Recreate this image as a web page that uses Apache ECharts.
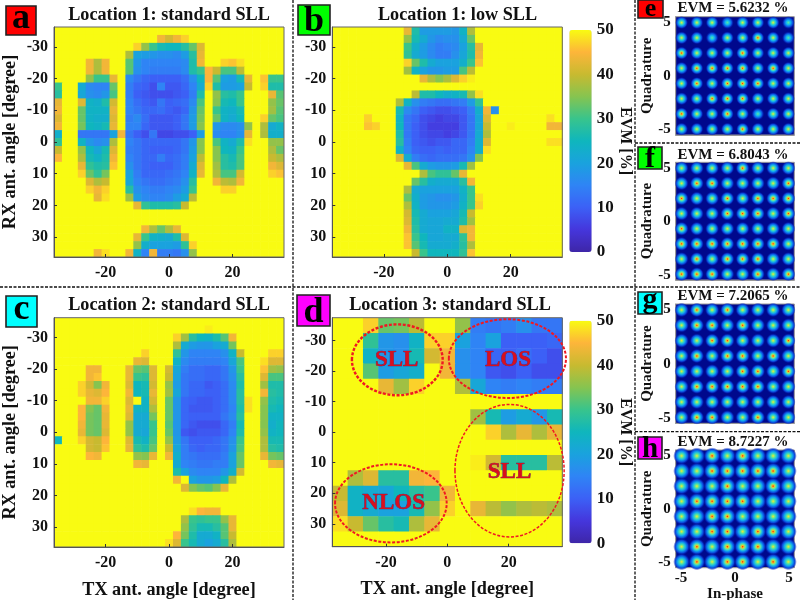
<!DOCTYPE html>
<html><head><meta charset="utf-8">
<style>html,body{margin:0;padding:0;background:#fff}#c{width:800px;height:600px}</style>
<script src="https://cdn.jsdelivr.net/npm/echarts@6/dist/echarts.min.js"></script>
</head><body><div id="c"></div>
<script>
// EVM [%]. A row lists [firstColumn, value, value, ...] runs; every other cell is the saturated 50.
const evmA = [
[],
[[13,44,41,44,47]],
[[10,47,36,30,26,25,25,28,33,42]],
[[9,38,20,19,18,17,17,16,19,28,43]],
[[4,44,38,44],[9,32,18,15,15,15,15,15,16,27,44],[21,47,46,48]],
[[4,44,38,44],[9,32,17,15,14,14,14,14,16,27,30,45,40,31,31,39]],
[[4,36,30,30,43],[9,16,13,11,10,10,10,10,12,17,25,45,32,20,19,26,43],[26,46,30,30]],
[[0,30],[3,22,16,15,15,33],[9,14,11,10,8,15,9,9,11,15,22,47,27,19,19,20,40],[26,47,27,27]],
[[0,28],[3,21,17,16,18,31],[9,14,10,9,8,8,8,9,10,14,27],[20,36,28,27,30],[27,43,32]],
[[0,43],[3,42,24,23,27,41],[9,15,12,10,9,13,10,11,12,16,31],[20,35,26,25,30],[27,36,33]],
[[0,44],[3,33,24,24,24,43],[9,15,13,11,11,12,10,9,11,18,33],[20,30,24,23,26],[27,37,32]],
[[0,42],[3,33,24,23,23,42],[9,14,16,12,9,9,9,10,13,19,34],[20,33,24,22,25],[26,47,33,31]],
[[0,44],[3,34,25,24,26,43],[9,15,15,11,9,9,9,10,13,19,35],[20,18,16,16,17,36],[26,38,22,24]],
[[0,23],[3,13,13,13,13,20,44,13,10,8,13,7,7,8,8,10,19],[20,16,15,15,17,43],[26,38,23,23]],
[[0,29],[3,24,18,16,17,38],[9,15,13,11,11,11,11,11,13,18,35],[20,31,24,22,27,48],[27,36,36]],
[[0,40],[3,36,25,21,26,42],[9,14,13,11,10,10,10,11,13,19,35],[20,35,25,24,30],[27,38,33]],
[[0,45],[3,38,26,24,27,44],[9,15,13,11,11,14,11,12,14,20,39],[20,35,28,26,31],[27,40,38]],
[[3,43,29,27,28,46],[9,17,13,11,10,10,10,12,14,22,42],[20,37,28,27,31],[27,44,42]],
[[3,47,33,29,34],[9,20,14,11,11,11,12,13,15,24,43],[20,38,31,31,41],[27,47,46]],
[[4,42,38,40],[9,21,15,13,12,12,13,14,17,28],[20,44,39,38,44]],
[[4,47,44,47],[9,28,17,15,14,14,15,16,19,30],[21,47,47]],
[[5,43,48],[9,37,19,16,15,15,16,19,22,39]],
[[10,43,29,27,27,27,28,40]],
[],
[],
[[11,44,38,33,38,43]],
[[10,43,30,24,23,22,27,42]],
[[10,36,23,20,20,20,19,29,47]],
[[5,44,48],[9,44,24,15,44,14,14,13,17,36]]
];
const evmB = [
[[9,43,27,19,19,19,19,18,24,38]],
[[9,36,26,22,18,16,17,17,22,33]],
[[9,30,23,19,16,14,15,16,20,28,43]],
[[9,29,22,19,16,14,14,17,21,27,44]],
[[9,47,33,27,22,20,20,20,23,30,46]],
[[9,37,24,20,18,18,19,19,31,39]],
[[11,43,38,35,38,42,47,49]],
[],
[[10,39,27,27,25,23,24,26,36,48]],
[[8,38,24,17,14,13,12,12,13,14,19,29]],
[[8,26,16,13,10,9,8,8,9,10,14,23,44,17]],
[[4,47],[8,24,13,11,8,7,6,7,7,9,13,21,42],[27,48]],
[[4,46,47],[8,25,13,10,8,6,6,6,6,9,13,21,40],[22,49],[27,44,44]],
[[8,27,13,10,8,7,7,6,7,9,13,22,38]],
[[8,28,14,10,9,8,9,9,11,11,14,23,42],[27,48,48]],
[[8,24,15,11,10,10,11,10,11,11,15,23,48]],
[[8,42,22,14,12,11,12,12,12,13,17,35]],
[[9,43,31,22,19,18,18,19,26,37]],
[[11,38,31,29,29,33,43]],
[[10,33,28,23,22,22,22,28,44]],
[[9,38,22,20,20,20,20,20,24,30]],
[[9,33,23,19,18,17,17,18,23,30,48]],
[[9,38,24,19,18,18,18,19,24,30,47]],
[[9,41,26,22,20,20,20,21,26,40]],
[[9,42,27,22,21,21,22,22,27,37]],
[[9,44,28,22,21,21,24,24,42,44]],
[[9,46,30,25,21,21,22,22,29,44]],
[[9,46,32,26,22,22,22,23,28,38]],
[[10,40,30,25,25,25,25,29,46]]
];
const evmC = [
[],
[[19,49]],
[[15,47,37,28,25,24,27,32,44]],
[[15,38,22,19,18,18,20,22,34]],
[[11,47],[15,29,18,15,15,15,15,17,24,40],[27,47,47]],
[[10,43,42],[15,24,16,14,14,14,14,15,21,31],[26,48,42,42]],
[[4,44,44],[9,43,33,32,42],[14,41,21,14,12,12,11,11,13,18,30],[26,46,37,36]],
[[4,44,46],[9,43,30,29,42],[14,40,20,13,12,12,11,11,13,17,28],[26,42,31,31]],
[[3,47,41,35,44],[9,42,25,26,41],[14,36,19,13,11,11,9,10,12,16,27],[26,37,27,27]],
[[3,47,43,42,45],[9,44,25,26,43],[14,37,21,13,11,11,10,10,12,16,28],[26,44,28,27]],
[[4,44,44,47],[9,42,50,24,41],[14,33,18,11,10,9,9,10,12,16,28,48],[26,36,27,26]],
[[3,45,35,33,44],[9,43,24,24,38],[14,33,18,11,9,9,9,10,12,15,27,48],[26,35,26,25]],
[[3,45,34,33,43],[9,42,22,22,34],[14,33,18,11,10,10,10,10,13,16,28],[26,35,24,24]],
[[3,44,34,33,43],[9,36,22,22,30],[14,32,18,11,9,8,8,8,11,14,26],[26,35,23,25]],
[[3,43,34,33,42],[9,36,22,21,30],[14,33,18,9,8,9,9,9,11,15,27],[26,36,24,25]],
[[0,25],[3,47,41,40,45],[9,42,26,24,31],[14,36,19,13,10,10,10,11,13,17,30],[26,38,26,26]],
[[4,41,40,46],[9,43,29,27,33],[14,40,21,14,11,10,11,11,13,18,31],[26,38,28,27]],
[[4,45,44],[10,36,35,43],[14,44,23,14,13,12,12,12,14,20,33],[26,43,34,33]],
[[10,44,43],[15,22,15,14,13,13,14,14,20,33],[27,44,43]],
[[15,27,20,16,15,15,15,18,23,41]],
[[15,44,50,20,18,18,19,25,38]],
[[16,42,35,33,32,35,43]],
[],
[],
[[17,48,45,44,44]],
[[16,38,30,29,30,30,36,43]],
[[16,36,29,26,26,28,32,43]],
[[15,45,34,27,22,22,24,32,40]],
[[14,48,42,30,26,22,20,22,28,38]]
];
const evmD = [
[[2,47,33,34,39],[8,36,14,13,14,17,13,13]],
[[2,29,18,17,24,47,47,20,15,20,10,10,10,11]],
[[2,24,18,17,26,41,44,17,15,11,10,12,10,8]],
[[2,32,19,21,23,50,44,17,15,9,8,10,8,8]],
[[3,43,37,47],[8,38,21,15,14,15,14,14]],
[],
[[9,37,26,19,22,18,26]],
[[10,47,38,43,38,43]],
[],
[[9,49,41,28,28,28,39]],
[[1,38,42,28,28,44,45]],
[[0,40,24,22,21,25,28,30,44]],
[[0,42,24,22,20,20,26,36,47],[9,43,39,36,38,39,38]],
[[0,48,40,33,28,26,38,43]],
[]
];
const stepFine = 2.5, stepCoarse = 5, satValue = 50;

const txTicksWide = [-20, 0, 20];
const rxTicksA = [-30,-20,-10,0,10,20,30];
const barTicks = [0,10,20,30,40,50];

// Dashed ellipses and their labels in panel d, in degrees: [cx, cy, rx, ry]
const ellipseSets = [[-16.3,-23.7,14.8,11.6],[19.6,-24.1,19.1,12.9],[20.3,12.6,17.8,21.7],[-18.4,23.3,18.2,12.8]];
const ellipseWidths = [2.4,2,1.5,2];
const ellipseLabels = [['SLL',-16.5,-23.7],['LOS',19.8,-23.7],['SLL',20.3,12.9],['NLOS',-17.5,23.3]];

// Constellations: symbol levels and how hot each cluster's core looks (1 cyan, 2 yellow, 3 red), top row first.
const iqLevels = [-4.95,-3.536,-2.121,-0.707,0.707,2.121,3.536,4.95];
const coreE = [[2,2,2,1,2,2,2,1],[2,2,1,2,2,3,2,1],[3,2,2,2,3,2,2,2],[2,3,3,3,3,2,3,2],[2,3,2,3,3,3,2,2],[2,2,3,3,3,2,2,2],[3,2,2,3,2,1,2,2],[2,2,2,2,3,2,2,2]];
const coreF = [[2,2,2,2,3,2,2,2],[2,3,3,2,2,2,2,3],[3,2,2,3,2,3,3,3],[2,2,2,3,3,3,2,3],[3,2,2,2,2,2,2,2],[3,3,3,3,3,3,3,2],[2,3,2,3,3,3,2,2],[3,3,3,2,2,3,2,3]];
const coreG = [[2,3,2,3,2,2,2,2],[2,3,3,2,3,2,2,2],[2,2,3,3,2,2,2,3],[2,3,2,3,3,2,3,2],[2,2,2,2,3,3,2,3],[2,3,3,3,3,3,2,2],[2,2,2,2,2,2,2,2],[2,3,3,2,2,3,2,2]];
const coreH = [[2,2,3,2,3,2,2,2],[2,2,3,3,3,3,3,2],[2,2,2,3,2,2,3,2],[2,3,3,3,3,2,2,2],[2,2,3,3,2,2,2,2],[2,2,3,3,2,3,3,2],[2,3,2,3,3,3,2,2],[2,3,2,3,3,2,3,2]];
const evmTitles = ['EVM = 5.6232 %','EVM = 6.8043 %','EVM = 7.2065 %','EVM = 8.7227 %'];
const mapTitles = ['Location 1: standard SLL','Location 1: low SLL','Location 2: standard SLL','Location 3: standard SLL'];

const parula = ['#3e26a8','#4536dc','#3c60f6','#2f84f5','#1aa2de','#0fb6bd','#38c48c','#86c450','#c8ba30','#fdb53a','#f9fb12'];
const FONT = '"Liberation Serif","Times New Roman",serif';

function expand(rows, n, start, step){
  const out = [];
  for(let j=0;j<n;j++){
    const row = new Array(n).fill(satValue);
    (rows[j]||[]).forEach(seg=>{ for(let k=1;k<seg.length;k++) row[seg[0]+k-1]=seg[k]; });
    for(let i=0;i<n;i++) out.push([start+i*step, start+j*step, row[i]]);
  }
  return out;
}
function cellRenderer(step){
  return function(params, api){
    const c = api.coord([api.value(0), api.value(1)]);
    const s = api.size([step, step]);
    return {type:'rect', shape:{x:c[0]-s[0]/2, y:c[1]-s[1]/2, width:s[0]+0.6, height:s[1]+0.6},
      style:{fill:api.visual('color')}};
  };
}
const grids=[], xAxes=[], yAxes=[], series=[], titles=[];
const tickText = {fontFamily:FONT, fontWeight:'bold', fontSize:16, color:'#111'};
const nameText = {fontFamily:FONT, fontWeight:'bold', fontSize:18.2, color:'#111'};

function addMap(rect, lim, xTicks, yTicks, showXName, showYName, rows, n, step, title, titleX, titleY){
  const idx = grids.length;
  grids.push({left:rect[0], top:rect[1], width:rect[2], height:rect[3], show:true, borderColor:'#666', borderWidth:1, z:6, backgroundColor:'transparent', outerBoundsMode:'none'});
  const ax = {type:'value', min:-lim, max:lim, gridIndex:idx, splitLine:{show:false}, axisLine:{show:true,onZero:false,lineStyle:{color:'#555',width:1}},
    axisTick:{show:true, inside:true, length:3, lineStyle:{color:'#333'}}, z:6};
  xAxes.push(Object.assign({}, ax, {position:'bottom',
    axisLabel:Object.assign({show:true, margin:8, customValues:xTicks}, tickText),
    axisTick:Object.assign({}, ax.axisTick, {customValues:xTicks}),
    name:showXName?'TX ant. angle [degree]':'', nameLocation:'middle', nameGap:34, nameTextStyle:nameText}));
  yAxes.push(Object.assign({}, ax, {position:'left', inverse:true,
    axisLabel:Object.assign({show:true, margin:6, customValues:yTicks}, tickText),
    axisTick:Object.assign({}, ax.axisTick, {customValues:yTicks}),
    name:showYName?'RX ant. angle [degree]':'', nameLocation:'middle', nameGap:35, nameTextStyle:nameText}));
  series.push({type:'custom', coordinateSystem:'cartesian2d', xAxisIndex:idx, yAxisIndex:idx, clip:true, silent:true,
    encode:{x:0,y:1}, renderItem:cellRenderer(step), data:expand(rows,n,-35,step), z:2});
  titles.push({text:title, left:titleX, top:titleY, textAlign:'center', padding:0,
    textStyle:{fontFamily:FONT,fontWeight:'bold',fontSize:18.2,color:'#111'}});
  return idx;
}
addMap([54,27,230,230],36.25,txTicksWide,rxTicksA,false,true,evmA,29,stepFine,mapTitles[0],169,6);
addMap([332.3,27,230,230],36.25,txTicksWide,rxTicksA,false,false,evmB,29,stepFine,mapTitles[1],457.5,6);
addMap([54,317.7,230,229.3],36.25,txTicksWide,rxTicksA,true,true,evmC,29,stepFine,mapTitles[2],169,296);
const panelD = addMap([332.3,317.7,230,229],37.5,txTicksWide,rxTicksA,true,false,evmD,15,stepCoarse,mapTitles[3],450,296);

// Colour bars: a value axis beside each visualMap gradient
const barRects = [[569.3,30,22.4,222],[569.3,320.7,22.4,222.6]];
barRects.forEach(r=>{
  const idx = grids.length;
  grids.push({left:r[0],top:r[1],width:r[2],height:r[3],show:false,outerBoundsMode:'none'});
  xAxes.push({type:'value',gridIndex:idx,show:false,min:0,max:1});
  yAxes.push({type:'value',gridIndex:idx,position:'right',min:0,max:50,interval:10,
    axisLine:{show:false},axisTick:{show:false},splitLine:{show:false},
    axisLabel:Object.assign({margin:5,customValues:barTicks},tickText,{fontSize:17}),
    name:'EVM [%]',nameLocation:'middle',nameRotate:-90,nameGap:22,nameTextStyle:Object.assign({},nameText,{fontSize:16})});
  series.push({type:'scatter',xAxisIndex:idx,yAxisIndex:idx,data:[],silent:true});
});

// Ellipses and labels on panel d
series.push({type:'custom',coordinateSystem:'cartesian2d',xAxisIndex:panelD,yAxisIndex:panelD,clip:false,silent:true,z:8,
  encode:{x:0,y:1},data:ellipseSets,
  renderItem:function(p,api){
    const c=api.coord([api.value(0),api.value(1)]), s=api.size([api.value(2),api.value(3)]);
    return {type:'ellipse',shape:{cx:c[0],cy:c[1],rx:s[0],ry:s[1]},
      style:{fill:'none',stroke:'#f01822',lineWidth:ellipseWidths[p.dataIndex],lineDash:[3,1.6]}};
  }});
series.push({type:'custom',coordinateSystem:'cartesian2d',xAxisIndex:panelD,yAxisIndex:panelD,clip:false,silent:true,z:9,
  encode:{x:1,y:2},data:ellipseLabels,
  renderItem:function(p,api){
    const c=api.coord([ellipseLabels[p.dataIndex][1],ellipseLabels[p.dataIndex][2]]);
    return {type:'text',style:{text:ellipseLabels[p.dataIndex][0],x:c[0],y:c[1],align:'center',verticalAlign:'middle',
      font:'bold 23px '+FONT,fill:'#d80f1e',stroke:'#4a2a70',lineWidth:0.6}};
  }});

// Constellations
const coreStops = {
  1:[[0,'#5ae8a0'],[0.32,'#12b8f0'],[0.66,'#0a50e0'],[1,'rgba(0,20,170,0)']],
  2:[[0,'#f4e830'],[0.24,'#50e4a0'],[0.48,'#10a8f0'],[0.74,'#0a48dc'],[1,'rgba(0,20,170,0)']],
  3:[[0,'#f02010'],[0.14,'#f8c020'],[0.32,'#60e8a0'],[0.52,'#10a8f0'],[0.76,'#0a48dc'],[1,'rgba(0,20,170,0)']]
};
function gradientFor(level){
  return {type:'radial',x:0.5,y:0.5,r:0.5,colorStops:coreStops[level].map(s=>({offset:s[0],color:s[1]}))};
}
function addIQ(top,height,core,size,title,titleY,last){
  const idx=grids.length;
  grids.push({left:675.7,top:top,width:118.6,height:height,show:true,backgroundColor:'#00088c',borderColor:'#999',borderWidth:1,outerBoundsMode:'none'});
  const base={type:'value',gridIndex:idx,min:-5.5,max:5.5,splitLine:{show:false},axisLine:{show:true,onZero:false,lineStyle:{color:'#999'}},axisTick:{show:false}};
  const iqTicks=[-5,0,5];
  xAxes.push(Object.assign({},base,{position:'bottom',
    axisLabel:Object.assign({show:last,margin:3,customValues:iqTicks},tickText,{fontSize:15}),
    name:last?'In-phase':'',nameLocation:'middle',nameGap:10,nameTextStyle:Object.assign({},nameText,{fontSize:15})}));
  yAxes.push(Object.assign({},base,{position:'left',
    axisLabel:Object.assign({show:true,margin:5,customValues:iqTicks},tickText,{fontSize:15}),
    name:'Quadrature',nameLocation:'middle',nameGap:11,nameTextStyle:Object.assign({},nameText,{fontSize:15})}));
  const pts=[];
  core.forEach((row,j)=>row.forEach((v,i)=>pts.push([iqLevels[i],iqLevels[7-j],v])));
  series.push({type:'scatter',xAxisIndex:idx,yAxisIndex:idx,data:pts,symbolSize:size,silent:true,z:3,clip:true,
    itemStyle:{opacity:1,color:function(p){return gradientFor(p.value[2]);}}});
  titles.push({text:title,left:733,top:titleY,textAlign:'center',padding:0,
    textStyle:{fontFamily:FONT,fontWeight:'bold',fontSize:15,color:'#111'}});
}
addIQ(16.7,118.3,coreE,13,evmTitles[0],1,false);
addIQ(162.3,117.7,coreF,14,evmTitles[1],148,false);
addIQ(304,119.3,coreG,14.5,evmTitles[2],289,false);
addIQ(450,117.7,coreH,17,evmTitles[3],435,true);

// Panel badges (label, box x, y, w, h, fill, font size, baseline y) and dashed dividers
const badges=[['a',6,6,30,29,'#ff0000',36,28],['b',298,5,32,30,'#00ff00',36,31.7],['c',6,296,31,31,'#00ffff',36,319],['d',297,295,33,31,'#ff00ff',36,322.7],
 ['e',638,0,25,18,'#ff0000',26,16.7],['f',638,147,24,22,'#00ff00',30,167.7],['g',638,292,24,22,'#00ffff',30,308],['h',638,437,24,22,'#ff00ff',29,457.7]];
const dividers=[[0,287,800,287],[293,0,293,600],[635,0,635,600],[635,143,800,143],[635,431.7,800,431.7]];
const graphics=[];
dividers.forEach(d=>graphics.push({type:'line',shape:{x1:d[0],y1:d[1],x2:d[2],y2:d[3]},style:{stroke:'#111',lineWidth:1.3,lineDash:[3,1.5]},silent:true}));
badges.forEach(b=>{
  graphics.push({type:'rect',shape:{x:b[1],y:b[2],width:b[3],height:b[4]},style:{fill:b[5],stroke:'#222',lineWidth:1.6},silent:true});
  graphics.push({type:'text',style:{text:b[0],x:b[1]+b[3]/2,y:b[7]-0.27*b[6],align:'center',verticalAlign:'middle',font:'bold '+b[6]+'px '+FONT,fill:'#000'},silent:true});
});

const chart=echarts.init(document.getElementById('c'),null,{renderer:'canvas'});
chart.setOption({
  animation:false, backgroundColor:'#fff',
  title:titles, grid:grids, xAxis:xAxes, yAxis:yAxes, series:series, graphic:graphics,
  tooltip:{show:false},
  visualMap:[
    {type:'continuous',seriesIndex:[0,1,2],dimension:2,min:0,max:50,left:569.3,top:30,itemWidth:22.4,itemHeight:222,padding:0,
      calculable:false,showLabel:false,text:null,inRange:{color:parula},hoverLink:false},
    {type:'continuous',seriesIndex:[3],dimension:2,min:0,max:50,left:569.3,top:320.7,itemWidth:22.4,itemHeight:222.6,padding:0,
      calculable:false,showLabel:false,text:null,inRange:{color:parula},hoverLink:false}
  ]
});
</script></body></html>
